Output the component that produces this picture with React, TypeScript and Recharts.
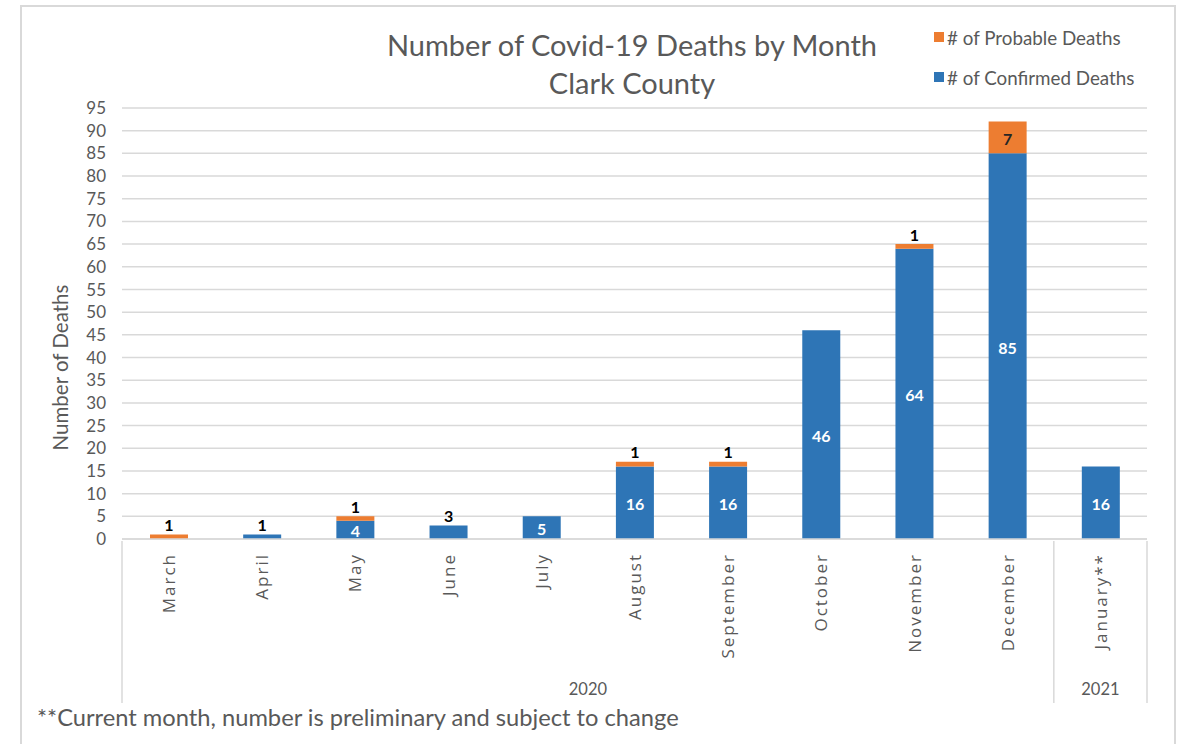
import React from "react";
import {
    BarChart,
    Bar,
    XAxis,
    YAxis,
    CartesianGrid,
    LabelList
} from "recharts";

const months = ["March", "April", "May", "June", "July", "August", "September", "October", "November", "December", "January**"];
const years = ["2020", "2020", "2020", "2020", "2020", "2020", "2020", "2020", "2020", "2020", "2021"];
const confirmed = [0, 1, 4, 3, 5, 16, 16, 46, 64, 85, 16];
const probable = [1, 0, 1, 0, 0, 1, 1, 0, 1, 7, 0];
const yTicks = [0, 5, 10, 15, 20, 25, 30, 35, 40, 45, 50, 55, 60, 65, 70, 75, 80, 85, 90, 95];

const BLUE = "#2E75B6";
const ORANGE = "#ED7D31";
const GRID = "#D9D9D9";
const TEXT = "#595959";
const FONT = "Lato, 'Open Sans', sans-serif";

const W = 1181;
const H = 744;
const MARGIN = { top: 108, right: 34, bottom: 0, left: 20 };
const Y_AXIS_W = 102;
const X_AXIS_H = 205;
const BAND = (W - MARGIN.left - MARGIN.right - Y_AXIS_W) / months.length;

const data = months.map((month, i) => ({
    month,
    year: years[i],
    confirmed: confirmed[i],
    probable: probable[i]
}));

const legendItems = [
    { name: "# of Probable Deaths", color: ORANGE },
    { name: "# of Confirmed Deaths", color: BLUE }
];

// Month label plus the grouped year row underneath it
function MonthTick(props: any) {
    const { x, y, payload, index } = props;
    const left = x - BAND / 2;
    const right = x + BAND / 2;
    const yr = years[index];
    const firstOfGroup = index === 0 || years[index - 1] !== yr;
    const groupSize = years.filter(v => v === yr).length;
    const top = y - 6;
    return (
        <g>
            <text
                x={x}
                y={top + 12}
                transform={`rotate(-90, ${x}, ${top + 12})`}
                textAnchor="end"
                dominantBaseline="central"
                fill={TEXT}
                fontSize={17}
                letterSpacing={2}
                fontFamily="'Open Sans', sans-serif"
            >
                {payload.value}
            </text>
            {firstOfGroup && (
                <>
                    <line x1={left} x2={left} y1={top} y2={top + 162} stroke={GRID} strokeWidth={1.5} />
                    <text
                        x={left + (groupSize * BAND) / 2}
                        y={top + 148}
                        textAnchor="middle"
                        dominantBaseline="central"
                        fill={TEXT}
                        fontSize={16.5}
                        fontFamily={FONT}
                    >
                        {yr}
                    </text>
                </>
            )}
            {index === months.length - 1 && (
                <line x1={right} x2={right} y1={top} y2={top + 162} stroke={GRID} strokeWidth={1.5} />
            )}
        </g>
    );
}

function InsideLabel(color: string) {
    return function Label(props: any) {
        const { x, y, width, height, value } = props;
        if (value == null || value === 0) return null;
        return (
            <text x={x + width / 2} y={y + height / 2 + 1} textAnchor="middle" dominantBaseline="central"
                fill={color} fontSize={16} fontWeight={700} fontFamily={FONT}>
                {value}
            </text>
        );
    };
}

function AboveLabel(props: any) {
    const { x, y, width, value } = props;
    if (value == null || value === 0) return null;
    return (
        <text x={x + width / 2} y={y - 10} textAnchor="middle" dominantBaseline="central"
            fill="#000" fontSize={16} fontWeight={700} fontFamily={FONT}>
            {value}
        </text>
    );
}

const WhiteLabel = InsideLabel("#fff");
const DarkLabel = InsideLabel("#262626");

export default function App() {
    return (
        <div style={{ position: "absolute", left: 0, top: 0, width: W, height: H, background: "#fff", overflow: "hidden" }}>
            <div style={{ position: "absolute", left: 20, top: 5, width: 1152, height: 800, border: `2px solid ${GRID}` }} />
            <div style={{ position: "absolute", left: 300, width: 664, top: 26, textAlign: "center", fontFamily: FONT, fontSize: 29, color: TEXT, lineHeight: "38px" }}>
                <div>Number of Covid-19 Deaths by Month</div>
                <div>Clark County</div>
            </div>
            <div style={{ position: "absolute", left: 934, top: 17, fontFamily: FONT, fontSize: 18.8, color: TEXT }}>
                {legendItems.map(item => (
                    <div key={item.name} style={{ display: "flex", alignItems: "center", height: 40 }}>
                        <span style={{ width: 10, height: 10, background: item.color, marginRight: 3 }} />
                        {item.name}
                    </div>
                ))}
            </div>
            <div style={{ position: "absolute", left: 37, top: 703, fontFamily: FONT, fontSize: 23.7, color: TEXT }}>
                **Current month, number is preliminary and subject to change
            </div>
            <BarChart width={W} height={H} data={data} margin={MARGIN} barSize={38}>
                <CartesianGrid vertical={false} stroke={GRID} strokeWidth={1.5} />
                <XAxis
                    dataKey="month"
                    interval={0}
                    height={X_AXIS_H}
                    tickLine={false}
                    axisLine={{ stroke: GRID, strokeWidth: 1.5 }}
                    tick={<MonthTick />}
                />
                <YAxis
                    width={Y_AXIS_W}
                    domain={[0, 95]}
                    ticks={yTicks}
                    interval={0}
                    tickLine={false}
                    axisLine={false}
                    tickMargin={10}
                    tick={{ fill: TEXT, fontSize: 17, fontFamily: FONT }}
                    label={(p: any) => {
                        const vb = p.viewBox;
                        const cx = 60;
                        const cy = vb.y + vb.height / 2 + 44;
                        return (
                            <text x={cx} y={cy} transform={`rotate(-90, ${cx}, ${cy})`} textAnchor="middle"
                                dominantBaseline="central" fill={TEXT} fontSize={20.5} fontFamily={FONT}>
                                Number of Deaths
                            </text>
                        );
                    }}
                />
                <Bar dataKey="confirmed" name="# of Confirmed Deaths" stackId="a" fill={BLUE} isAnimationActive={false}>
                    <LabelList dataKey={(d: any) => (d.confirmed >= 4 ? d.confirmed : null)} content={<WhiteLabel />} />
                    <LabelList
                        dataKey={(d: any) => (d.confirmed > 0 && d.confirmed < 4 && d.probable === 0 ? d.confirmed : null)}
                        content={<AboveLabel />}
                    />
                </Bar>
                <Bar dataKey="probable" name="# of Probable Deaths" stackId="a" fill={ORANGE} isAnimationActive={false}>
                    <LabelList dataKey={(d: any) => (d.probable >= 5 ? d.probable : null)} content={<DarkLabel />} />
                    <LabelList dataKey={(d: any) => (d.probable > 0 && d.probable < 5 ? d.probable : null)} content={<AboveLabel />} />
                </Bar>
            </BarChart>
        </div>
    );
}
